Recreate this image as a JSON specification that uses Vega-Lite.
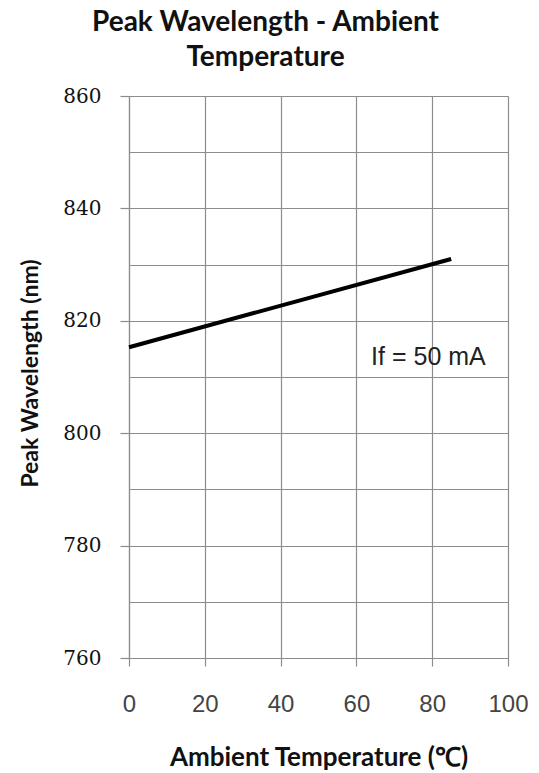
{
  "$schema": "https://vega.github.io/schema/vega-lite/v6.json",
  "width": 379,
  "height": 562,
  "autosize": "none",
  "padding": {"left": 129, "top": 96, "right": 31, "bottom": 115},
  "background": "white",
  "title": {
    "text": ["Peak Wavelength - Ambient", "Temperature"],
    "font": "Lato",
    "fontSize": 28,
    "fontWeight": "bold",
    "color": "#111111",
    "lineHeight": 35,
    "anchor": "middle",
    "dx": -53,
    "offset": 14
  },
  "config": {"view": {"stroke": null}},
  "datasets": {
    "curve": [
      {"temp": 0, "wl": 815.3},
      {"temp": 85, "wl": 831}
    ],
    "note": [
      {"temp": 79, "wl": 813.6, "label": "If = 50 mA"}
    ]
  },
  "layer": [
    {
      "data": {"name": "curve"},
      "mark": {"type": "line", "color": "#000000", "strokeWidth": 4},
      "encoding": {
        "x": {
          "field": "temp", "type": "quantitative",
          "scale": {"domain": [0, 100], "nice": false},
          "axis": {
            "title": "Ambient Temperature (℃)",
            "values": [0, 20, 40, 60, 80, 100],
            "grid": true,
            "gridColor": "#8c8c8c",
            "gridOpacity": 1,
            "gridWidth": 1.2,
            "domainColor": "#8c8c8c",
            "domainWidth": 1.2,
            "tickColor": "#8c8c8c",
            "tickSize": 8,
            "tickWidth": 1.2,
            "labelFlush": false,
            "labelFont": "Liberation Sans",
            "labelFontSize": 24,
            "labelColor": "#444444",
            "labelPadding": 26,
            "titleFont": "Lato",
            "titleFontSize": 26,
            "titleFontWeight": "bold",
            "titleColor": "#111111",
            "titleBaseline": "middle",
            "titleY": 99
          }
        },
        "y": {
          "field": "wl", "type": "quantitative",
          "scale": {"domain": [760, 860], "nice": false, "zero": false},
          "axis": {
            "title": "Peak Wavelength (nm)",
            "values": [760, 770, 780, 790, 800, 810, 820, 830, 840, 850, 860],
            "labelExpr": "datum.value % 20 === 0 ? datum.label : ''",
            "labelFlush": false,
            "grid": true,
            "gridColor": "#8c8c8c",
            "gridOpacity": 1,
            "gridWidth": 1.2,
            "domainColor": "#8c8c8c",
            "domainWidth": 1.2,
            "tickColor": {"condition": {"test": "datum.value % 20 === 0", "value": "#8c8c8c"}, "value": "transparent"},
            "tickSize": 9,
            "tickWidth": 1.2,
            "labelFont": "DejaVu Serif",
            "labelFontSize": 20,
            "labelColor": "#111111",
            "labelPadding": 19,
            "titleFont": "Lato",
            "titleFontSize": 23,
            "titleFontWeight": "bold",
            "titleColor": "#111111",
            "titleAngle": -90,
            "titleAlign": "center",
            "titleBaseline": "middle",
            "titleX": -99,
            "titleY": 277
          }
        }
      }
    },
    {
      "data": {"name": "note"},
      "mark": {"type": "text", "font": "Liberation Sans", "fontSize": 25, "color": "#222222", "align": "center", "baseline": "middle"},
      "encoding": {
        "x": {"field": "temp", "type": "quantitative"},
        "y": {"field": "wl", "type": "quantitative"},
        "text": {"field": "label"}
      }
    }
  ]
}
